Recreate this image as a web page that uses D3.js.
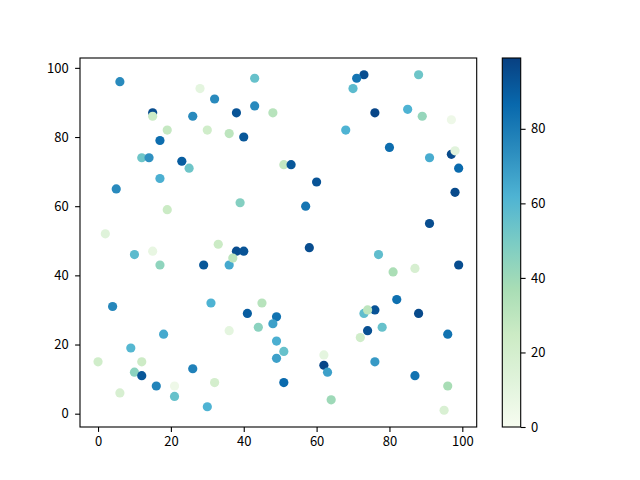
<!DOCTYPE html>
<html><head><meta charset="utf-8">
<script src="https://cdn.jsdelivr.net/npm/d3@7"></script>
<style>body{margin:0;background:#fff}svg{display:block}text{font-family:"Noto Sans CJK SC","Noto Sans",sans-serif;font-size:13px;fill:#000}</style>
</head><body><svg id="c" width="640" height="480"></svg>
<script>
const xs = [6,28,32,15,15,26,19,30,17,12,14,23,25,17,5,19,2,33,
  43,38,43,48,36,40,68,51,53,60,57,39,58,
  73,71,70,88,76,85,89,97,80,91,97,98,99,98,91,
  10,15,17,29,4,31,18,9,0,12,10,12,26,16,21,32,6,21,30,
  38,40,36,37,45,41,49,48,44,36,49,51,49,62,62,63,51,64,
  77,81,87,99,82,76,73,74,88,74,78,72,96,76,87,96,95];
const ys = [96,94,91,87,86,86,82,82,79,74,74,73,71,68,65,59,52,49,
  97,87,89,87,81,80,82,72,72,67,60,61,48,
  98,97,94,98,87,88,86,85,77,74,75,76,71,64,55,
  46,47,43,43,31,32,23,19,15,15,12,11,13,8,8,9,6,5,2,
  47,47,43,45,32,29,28,26,25,24,21,18,16,17,14,12,9,4,
  46,41,42,43,33,30,29,30,29,24,25,22,23,15,11,8,1];
const cs = [75,10,75,95,25,75,27,22,85,53,73,90,53,63,75,25,13,25,
  55,93,75,32,30,92,62,28,92,93,82,47,95,
  95,82,58,53,97,62,42,5,85,64,96,12,86,96,95,
  58,8,44,92,76,62,65,60,22,24,45,92,78,77,5,20,18,55,62,
  95,93,65,30,32,90,83,68,45,10,63,55,68,10,97,68,86,40,
  57,36,18,95,84,93,57,30,96,94,55,22,83,70,83,37,17];
const xTicks = [0,20,40,60,80,100];
const yTicks = [0,20,40,60,80,100];
const cTicks = [0,20,40,60,80];
const gnbu = ["#f7fcf0","#e0f3db","#ccebc5","#a8ddb5","#7bccc4","#4eb3d3","#2b8cbe","#0868ac","#084081"];

const svg = d3.select("#c");
const L=80, R=476.7, T=58, B=427;
const xmin=d3.min(xs), xmax=d3.max(xs), ymin=d3.min(ys), ymax=d3.max(ys);
const mx=(xmax-xmin)*0.05, my=(ymax-ymin)*0.05;
const x = d3.scaleLinear().domain([xmin-mx,xmax+mx]).range([L,R]);
const y = d3.scaleLinear().domain([ymin-my,ymax+my]).range([B,T]);
const cmin=0, cmax=99;
const cScale = d3.scaleLinear().domain(gnbu.map((d,i)=>cmin+(cmax-cmin)*i/(gnbu.length-1))).range(gnbu).interpolate(d3.interpolateRgb);

svg.append("g").selectAll("circle").data(xs.map((d,i)=>[d,ys[i],cs[i]])).join("circle")
  .attr("cx",d=>x(d[0])).attr("cy",d=>y(d[1])).attr("r",4.6).attr("fill",d=>cScale(d[2]));

const ax = svg.append("g").attr("transform",`translate(0,${B})`).call(d3.axisBottom(x).tickValues(xTicks).tickSize(4.9).tickPadding(5).tickFormat(d3.format("d")));
const ay = svg.append("g").attr("transform",`translate(${L},0)`).call(d3.axisLeft(y).tickValues(yTicks).tickSize(4.9).tickPadding(6.5).tickFormat(d3.format("d")));
[ax,ay].forEach(a=>{a.select(".domain").remove();a.selectAll("line").attr("stroke","#000").attr("stroke-width",1.1);a.selectAll("text").attr("font-size",13).attr("font-family",null);});
svg.append("rect").attr("x",L).attr("y",T).attr("width",R-L).attr("height",B-T).attr("fill","none").attr("stroke","#000").attr("stroke-width",1.1);

// colorbar
const CL=502.3, CR=520.7;
const cy = d3.scaleLinear().domain([cmin,cmax]).range([B,T]);
const defs = svg.append("defs");
const grad = defs.append("linearGradient").attr("id","g").attr("x1",0).attr("y1",1).attr("x2",0).attr("y2",0);
gnbu.forEach((c,i)=>grad.append("stop").attr("offset",i/(gnbu.length-1)).attr("stop-color",c));
svg.append("rect").attr("x",CL).attr("y",T).attr("width",CR-CL).attr("height",B-T).attr("fill","url(#g)").attr("stroke","#000").attr("stroke-width",1.1);
const ac = svg.append("g").attr("transform",`translate(${CR},0)`).call(d3.axisRight(cy).tickValues(cTicks).tickSize(4.9).tickPadding(5.5).tickFormat(d3.format("d")));
ac.select(".domain").remove();ac.selectAll("line").attr("stroke","#000").attr("stroke-width",1.1);ac.selectAll("text").attr("font-size",13).attr("font-family",null);
</script></body></html>
